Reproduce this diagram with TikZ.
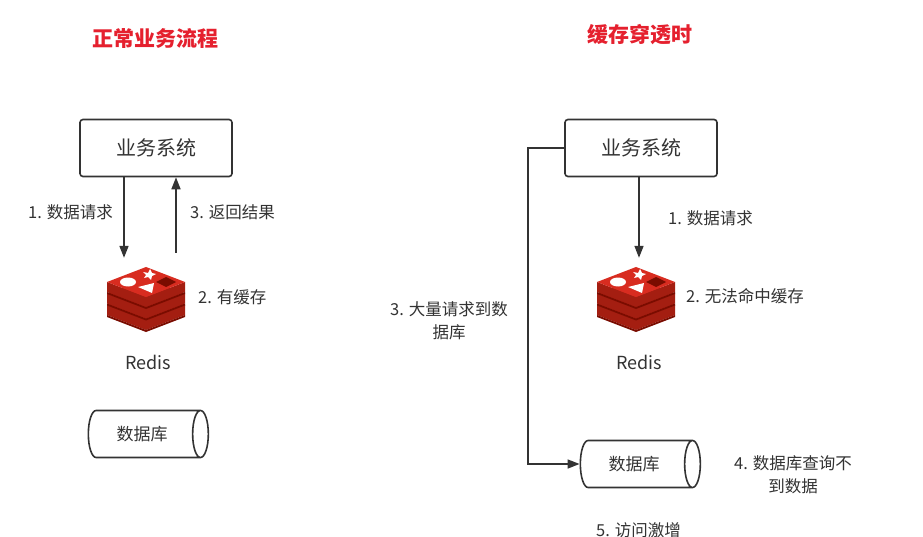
\documentclass[tikz,border=0pt]{standalone}
\usepackage{fontspec}
\setmainfont{Noto Sans CJK SC}
\usetikzlibrary{arrows.meta,shapes.geometric}
\definecolor{titlered}{HTML}{E5202E}
\definecolor{textgray}{HTML}{333333}
\definecolor{redistop}{HTML}{D82C20}
\definecolor{redisside}{HTML}{A41E11}
\definecolor{redisdark}{HTML}{7A0C00}
\tikzset{
  title/.style={text=titlered,font=\fontsize{21}{24}\selectfont\bfseries},
  sysbox/.style={draw=textgray,line width=1.6pt,rounded corners=3pt,minimum width=152pt,
    minimum height=57pt,text=textgray,font=\fontsize{20}{24}\selectfont},
  dbcyl/.style={cylinder,draw=textgray,line width=1.6pt,minimum height=120pt,minimum width=47pt,
    aspect=0.7,text=textgray,font=\fontsize{17}{20}\selectfont},
  label/.style={text=textgray,font=\fontsize{16.5}{23}\selectfont,inner sep=0pt},
  flow/.style={draw=textgray,line width=1.6pt,-{Triangle[length=12pt,width=9pt]}},
  redis/.pic={
    \foreach \k in {2,1,0} {
      \fill[redisside] (-39,-15+11.5*\k) -- (0,0+11.5*\k) -- (39,-15+11.5*\k)
        -- (39,-5+11.5*\k) -- (0,10+11.5*\k) -- (-39,-5+11.5*\k) -- cycle;
      \fill[redisdark] (-39,-5+11.5*\k) -- (0,10+11.5*\k) -- (39,-5+11.5*\k)
        -- (39,-3+11.5*\k) -- (0,12+11.5*\k) -- (-39,-3+11.5*\k) -- cycle;
      \fill[redistop] (-39,-15+11.5*\k) -- (0,-30+11.5*\k) -- (39,-15+11.5*\k)
        -- (0,0+11.5*\k) -- cycle;
    }
    \fill[white] (-18,-15) ellipse [x radius=8,y radius=4.5];
    \fill[white] (2,-24) -- (4,-28) -- (6,-24) -- (10,-23) -- (6,-21)
      -- (5,-17) -- (2,-20) -- (-2,-19) -- (0,-22) -- (-3,-25) -- cycle;
    \fill[white] (-8,-10) -- (8,-14) -- (6,-4) -- cycle;
    \fill[redisdark] (10,-15) -- (20,-20) -- (30,-15) -- (20,-10) -- cycle;
  }
}
\begin{document}
\begin{tikzpicture}[x=1pt,y=-1pt]
  \useasboundingbox[fill=white] (0,0) rectangle (923,537);
  % normal flow
  \node[title] (titlel) at (155,38) {正常业务流程};
  \node[sysbox] (sysl) at (156,148) {业务系统};
  \node[minimum width=80pt,minimum height=76pt] (redisl) at (146,296) {};
  \pic at (146,297) {redis};
  \node[label,text=textgray,font=\fontsize{18}{20}\selectfont] (redisnamel) at (148,362) {Redis};
  \node[dbcyl] (dbl) at (142,434) {数据库};
  \coordinate (reql) at (124,0);
  \coordinate (retl) at (176,0);
  \draw[flow] (sysl.south -| reql) -- (redisl.north -| reql);
  \draw[flow] ([yshift=5pt]redisl.north -| retl) -- (sysl.south -| retl);
  \node[label,anchor=west] (reqlabell) at (28,212) {1. 数据请求};
  \node[label,anchor=west] (retlabell) at (190,212) {3. 返回结果};
  \node[label,anchor=west] (hitlabel) at (198,297) {2. 有缓存};
  % cache penetration
  \node[title] (titler) at (640,35) {缓存穿透时};
  \node[sysbox] (sysr) at (641,148) {业务系统};
  \node[minimum width=80pt,minimum height=76pt] (redisr) at (636,296) {};
  \pic at (636,297) {redis};
  \node[label,text=textgray,font=\fontsize{18}{20}\selectfont] (redisnamer) at (639,362) {Redis};
  \node[dbcyl] (dbr) at (634,464) {数据库};
  \coordinate (reqr) at (639,0);
  \coordinate (bypass) at (528,0);
  \draw[flow] (sysr.south -| reqr) -- (redisr.north -| reqr);
  \draw[flow] (sysr.west) -- (sysr.west -| bypass) |- (dbr.west);
  \node[label,anchor=west] (reqlabelr) at (668,218) {1. 数据请求};
  \node[label,anchor=west] (misslabel) at (686,296) {2. 无法命中缓存};
  \node[label,align=center] (floodlabel) at (449,321) {3. 大量请求到数\\据库};
  \node[label,align=center] (emptylabel) at (793,475) {4. 数据库查询不\\到数据};
  \node[label,anchor=west] (surgelabel) at (596,530) {5. 访问激增};
\end{tikzpicture}
\end{document}
